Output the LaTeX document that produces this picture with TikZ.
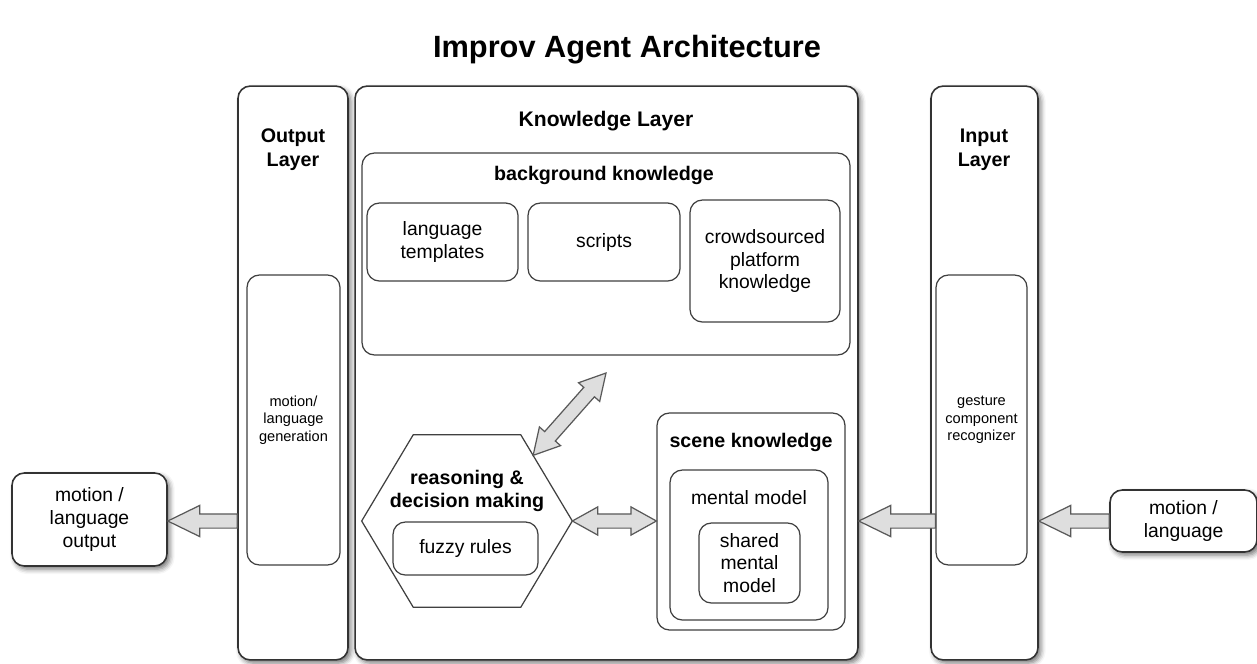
\documentclass[tikz,border=0pt]{standalone}
\usepackage{fontspec}
\setmainfont{Liberation Sans}
\usetikzlibrary{calc,shapes.arrows,shadows.blur}
\tikzset{
  softshadow/.style ={blur shadow={shadow xshift=1.6pt,shadow yshift=-1.8pt,shadow opacity=55,shadow blur radius=2.8pt}},
  layer/.style      ={draw=black!80,line width=0.9pt,rounded corners=7pt,fill=white,softshadow,inner sep=0pt},
  box/.style        ={draw=black!75,line width=0.7pt,rounded corners=7pt,fill=white,align=center,inner sep=0pt,
                      font=\fontsize{11}{13}\selectfont},
  extbox/.style     ={box,line width=0.9pt,draw=black!80,softshadow},
  heading/.style    ={align=center,font=\bfseries\fontsize{11.2}{13.5}\selectfont},
  smalltxt/.style   ={align=center,font=\fontsize{8.3}{10}\selectfont},
  plain/.style      ={align=center,font=\fontsize{11}{13}\selectfont},
  fatarr/.style     ={single arrow,draw=black!65,fill=black!13,line width=0.7pt,inner xsep=0pt,inner ysep=0.13cm,
                      outer sep=0pt,anchor=tail,single arrow head extend=0.17cm,single arrow tip angle=52},
  fatdbl/.style     ={double arrow,draw=black!65,fill=black!13,line width=0.7pt,inner xsep=0pt,inner ysep=0.13cm,
                      outer sep=0pt,double arrow head extend=0.14cm,double arrow tip angle=58},
}
% single block arrow from #1 to #2
\newcommand{\blockarrow}[2]{%
  \path let \p1=(#1), \p2=(#2), \n1={atan2(\y2-\y1,\x2-\x1)}, \n2={veclen(\x2-\x1,\y2-\y1)} in
    node[fatarr,rotate=\n1,minimum height=\n2] at (\p1) {};}
% double block arrow between #1 and #2
\newcommand{\blockdblarrow}[2]{%
  \path let \p1=(#1), \p2=(#2), \n1={atan2(\y2-\y1,\x2-\x1)}, \n2={veclen(\x2-\x1,\y2-\y1)} in
    node[fatdbl,rotate=\n1,minimum height=\n2] at ($(\p1)!0.5!(\p2)$) {};}

\begin{document}
\begin{tikzpicture}[x=0.02cm,y=-0.02cm]
  \useasboundingbox (0,0) rectangle (1257,663);
  \node[font=\bfseries\fontsize{17.5}{20}\selectfont](title) at (627,50){Improv Agent Architecture};

  % the three layers
  \node[layer,minimum width=2.2cm,minimum height=11.48cm](outlayer) at (293,373){};
  \node[layer,minimum width=10.06cm,minimum height=11.48cm](knowlayer) at (606.5,373){};
  \node[layer,minimum width=2.14cm,minimum height=11.48cm](inlayer) at (984.5,373){};
  \node[heading](outtitle) at (293,150){Output\\Layer};
  \node[heading,font=\bfseries\fontsize{12}{14}\selectfont](knowtitle) at (606,121){Knowledge Layer};
  \node[heading](intitle) at (984,150){Input\\Layer};
  \node[box,minimum width=1.86cm,minimum height=5.8cm](outgen) at (293.5,420){};
  \node[smalltxt] at (outgen){motion/\\language\\generation};
  \node[box,minimum width=1.82cm,minimum height=5.8cm](gesture) at (981.5,420){};
  \node[smalltxt] at (gesture){gesture\\component\\recognizer};

  % background knowledge
  \node[box,minimum width=9.76cm,minimum height=4.04cm](bgknow) at (606,254){};
  \node[heading](bgtitle) at (604,175){background knowledge};
  \node[box,minimum width=3.02cm,minimum height=1.56cm](langtpl) at (442.5,242){language\\templates};
  \node[box,minimum width=3.04cm,minimum height=1.56cm](scripts) at (604,242){scripts};
  \node[box,minimum width=3.0cm,minimum height=2.44cm](crowd) at (765,261){crowdsourced\\platform\\knowledge};

  % reasoning hexagon
  \node[minimum width=4.2cm,minimum height=3.44cm](reason) at (467,521){};
  \coordinate (hexnw) at ($(reason.north west)!0.245!(reason.north east)$);
  \coordinate (hexne) at ($(reason.north east)!0.245!(reason.north west)$);
  \coordinate (hexse) at ($(reason.south east)!0.245!(reason.south west)$);
  \coordinate (hexsw) at ($(reason.south west)!0.245!(reason.south east)$);
  \draw[draw=black!75,line width=0.7pt,fill=white](reason.west)--(hexnw)--(hexne)--(reason.east)--(hexse)--(hexsw)--cycle;
  \node[heading](reasontitle) at (467,491){reasoning \&\\decision making};
  \node[box,minimum width=2.9cm,minimum height=1.06cm](fuzzy) at (465.5,548.5){fuzzy rules};

  % scene knowledge
  \node[box,minimum width=3.76cm,minimum height=4.34cm](scene) at (751,521.5){};
  \node[heading](scenetitle) at (751,442){scene knowledge};
  \node[box,minimum width=3.16cm,minimum height=3.0cm](mental) at (749,545){};
  \node[plain](mentaltitle) at (749,498){mental model};
  \node[box,minimum width=2.02cm,minimum height=1.6cm](shared) at (749.5,563){shared\\mental\\model};

  % outside world
  \node[extbox,minimum width=3.1cm,minimum height=1.86cm](motionout) at (89.5,519.5){motion /\\language\\output};
  \node[extbox,minimum width=2.94cm,minimum height=1.24cm](motionin) at (1183.5,521){motion /\\language};

  % arrows
  \coordinate (reasonarr) at ($(hexne)!0.24!(reason.east)$);
  \coordinate (bgarr) at (606,373);
  \blockdblarrow{reasonarr}{bgarr}
  \blockdblarrow{reason.east}{reason.east -| scene.west}
  \blockarrow{motionin.west}{motionin.west -| inlayer.east}
  \blockarrow{gesture.west |- motionin.west}{motionin.west -| knowlayer.east}
  \blockarrow{outlayer.west |- reason.east}{motionout.east |- reason.east}
\end{tikzpicture}
\end{document}
